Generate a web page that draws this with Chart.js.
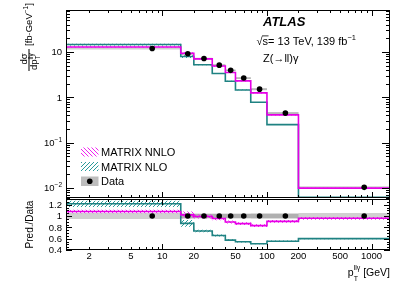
<!DOCTYPE html>
<html><head><meta charset="utf-8">
<script src="https://cdn.jsdelivr.net/npm/chart.js@4.4.0/dist/chart.umd.min.js"></script>
<style>
html,body{margin:0;padding:0;background:#fff;}
#wrap{position:relative;width:411px;height:284px;overflow:hidden;}
canvas{position:absolute;left:0;top:0;}
</style></head><body>
<div id="wrap"><canvas id="top" width="411" height="284"></canvas><canvas id="ratio" width="411" height="284"></canvas></div>
<script>
// ---------- data ----------
const binEdges   = [1, 15, 20, 30, 40, 50, 70, 100, 200, 1500];
const binCenters = [8, 17.5, 25, 35, 45, 60, 85, 150, 850];
const dataXsec   = [12.0, 9.2, 7.2, 5.15, 3.95, 2.67, 1.52, 0.45, 0.0103];
const nnloXsec   = [13.0, 9.4, 7.1, 4.92, 3.54, 2.31, 1.26, 0.41, 0.0099];
const nloXsec    = [14.7, 8.0, 5.25, 3.38, 2.27, 1.46, 0.78, 0.25, 0.0062];
const dataTotUnc  = [0.055, 0.05, 0.045, 0.045, 0.045, 0.045, 0.05, 0.05, 0.055];
const dataStatUnc = [0.0, 0.035, 0.035, 0.035, 0.035, 0.035, 0.035, 0.035, 0.0];
const nnloRelUnc = [0.03, 0.06, 0.035, 0.03, 0.03, 0.03, 0.03, 0.025, 0.025];
const nloRelUnc  = [0.045, 0.07, 0.03, 0.025, 0.025, 0.02, 0.02, 0.02, 0.02];
const ratioNNLO  = [1.08, 1.02, 0.99, 0.955, 0.895, 0.865, 0.83, 0.905, 0.96];
const ratioNLO   = [1.215, 0.87, 0.735, 0.655, 0.575, 0.545, 0.51, 0.555, 0.60];
const ratioData  = [1, 1, 1, 1, 1, 1, 1, 1, 1];
const yTicksTop = [0.01, 0.1, 1, 10];
const yTickLabelsTop = ['10^{-2}', '10^{-1}', '1', '10'];
const yTicksRatio = [0.4, 0.6, 0.8, 1, 1.2];
const yTickLabelsRatio = ['0.4', '0.6', '0.8', '1', '1.2'];
const xTicks = [2, 5, 10, 20, 50, 100, 200, 500, 1000];
const xTickLabels = ['2', '5', '10', '20', '50', '100', '200', '500', '1000'];
const xRange = [1.2, 1500];
const yRangeTop = [0.006, 85];
const yRangeRatio = [0.4, 1.3];

// ---------- style ----------
const FONT = '"Liberation Sans", Arial, Helvetica, sans-serif';
const MAG = '#e600e6';
const TEAL = '#1f8282';
const TEAL_HATCH = '#2a9a9a';
const MAG_HATCH = '#f020f0';
Chart.defaults.font.family = FONT;
Chart.defaults.color = '#000';

function hatch(ctx, color, dir) {
  const c = document.createElement('canvas'); c.width = 4; c.height = 4;
  const g = c.getContext('2d'); g.fillStyle = color;
  for (let i = 0; i < 4; i++) g.fillRect(i, dir > 0 ? 3 - i : i, 1, 1);
  return ctx.createPattern(c, 'repeat');
}
const stepPts = vals => binEdges.map((e, i) => ({x: e, y: vals[Math.min(i, vals.length - 1)]}));
function band(vals, unc, color, order) {
  return [
    {data: stepPts(vals.map((v,i)=>v*(1-unc[i]))), borderColor:'rgba(0,0,0,0)', borderWidth:0, pointRadius:0, stepped:true, fill:false, order},
    {data: stepPts(vals.map((v,i)=>v*(1+unc[i]))), borderColor:'rgba(0,0,0,0)', borderWidth:0, pointRadius:0, stepped:true, fill:'-1', backgroundColor:color, order}
  ];
}
function histLine(vals, color, order) {
  return {data: stepPts(vals), borderColor: color, borderWidth: 1.6, pointRadius: 0, stepped: true, fill: false, order};
}
function points(vals) {
  return {data: binCenters.map((x,i)=>({x, y: vals[i]})), showLine:false, pointRadius:2.8, pointBackgroundColor:'#000', pointBorderWidth:0, order:0};
}
function logTicks(min, max) {
  const out = [];
  for (let e = Math.floor(Math.log10(min)); e <= Math.ceil(Math.log10(max)); e++)
    for (let m = 1; m <= 9; m++) { const v = m * Math.pow(10, e); if (v >= min*0.9999 && v <= max*1.0001) out.push([v, m === 1]); }
  return out;
}
function xTickMarks(ctx, a, xs) {
  logTicks(xs.min, xs.max).forEach(([v, major]) => {
    const p = Math.round(xs.getPixelForValue(v)) + 0.5, L = major ? 6 : 3;
    ctx.moveTo(p, a.bottom); ctx.lineTo(p, a.bottom - L);
    ctx.moveTo(p, a.top); ctx.lineTo(p, a.top + L);
  });
}
function supText(ctx, parts, x, y) {
  let cx = x;
  parts.forEach(([t, s, dy]) => { ctx.font = s + 'px ' + FONT; ctx.fillText(t, cx, y + dy); cx += ctx.measureText(t).width; });
  return cx;
}
function partsWidth(ctx, parts) {
  let w = 0; parts.forEach(([t, s]) => { ctx.font = s + 'px ' + FONT; w += ctx.measureText(t).width; }); return w;
}

// ---------- top panel ----------
const topEl = document.getElementById('top');
const tctx = topEl.getContext('2d');
const magHatch = hatch(tctx, MAG_HATCH, -1), tealHatch = hatch(tctx, TEAL_HATCH, 1);

const topPlugin = {
  id: 'topDeco',
  afterDraw(chart) {
    const ctx = chart.ctx, a = chart.chartArea, xs = chart.scales.x, ys = chart.scales.y;
    ctx.save();
    ctx.strokeStyle = '#000'; ctx.lineWidth = 1; ctx.beginPath();
    xTickMarks(ctx, a, xs);
    logTicks(ys.min, ys.max).forEach(([v, major]) => {
      const p = Math.round(ys.getPixelForValue(v)) + 0.5, L = major ? 8 : 4;
      ctx.moveTo(a.left, p); ctx.lineTo(a.left + L, p);
      ctx.moveTo(a.right, p); ctx.lineTo(a.right - L, p);
    });
    ctx.stroke();
    ctx.strokeRect(a.left + 0.5, a.top + 0.5, a.width - 1, a.height - 1);
    // y tick labels
    ctx.fillStyle = '#000'; ctx.textAlign = 'left'; ctx.textBaseline = 'alphabetic';
    yTicksTop.forEach((v, i) => {
      const p = ys.getPixelForValue(v);
      const m = yTickLabelsTop[i].match(/^(.*?)\^\{(.*)\}$/);
      const parts = m ? [[m[1], 9.5, 0], [m[2].replace('-', '\u2212'), 6.5, -4.5]] : [[yTickLabelsTop[i], 9.5, 0]];
      const w = partsWidth(ctx, parts);
      supText(ctx, parts, 62 - w, p + 3.4);
    });
    // y title (rotated)
    ctx.save();
    ctx.translate(29, 71); ctx.rotate(-Math.PI / 2);
    ctx.fillRect(0, -0.5, 22, 1);
    ctx.font = '9.5px ' + FONT; ctx.textAlign = 'center';
    ctx.fillText('d\u03c3', 12, -1.8);
    ctx.textAlign = 'left';
    ctx.font = '9.5px ' + FONT; ctx.fillText('dp', 1, 8);
    const wdp = ctx.measureText('dp').width;
    ctx.font = '6.5px ' + FONT; ctx.fillText('T', 1 + wdp, 11); ctx.fillText('ll\u03b3', 1 + wdp, 4);
    supText(ctx, [['[fb\u00b7GeV', 9.5, 0], ['\u22121', 6.5, -4], [']', 9.5, 0]], 25, 2.5);
    ctx.restore();
    // labels
    ctx.fillStyle = '#000'; ctx.textAlign = 'left';
    ctx.font = 'bold italic 13px ' + FONT; ctx.fillText('ATLAS', 263, 26);
    ctx.font = '11px ' + FONT;
    ctx.fillText('\u221a', 256.5, 44.5);
    const wr = ctx.measureText('\u221a').width;
    ctx.fillText('s', 256.5 + wr, 44.5);
    const ws = ctx.measureText('s').width;
    ctx.fillRect(256.5 + wr - 0.5, 35.5, ws + 1, 0.8);
    supText(ctx, [['= 13 TeV, 139 fb', 11, 0], ['\u22121', 7.5, -4.5]], 256.5 + wr + ws, 44.5);
    ctx.font = '11px ' + FONT; ctx.fillText('Z(\u2192ll)\u03b3', 263, 61.5);
    // legend
    const lx = 81, lw = 17.5;
    ctx.fillStyle = magHatch; ctx.fillRect(lx, 147.5, lw, 9);
    ctx.fillStyle = tealHatch; ctx.fillRect(lx, 162, lw, 9);
    ctx.fillStyle = '#bdbdbd'; ctx.fillRect(lx, 176.5, lw, 9.5);
    ctx.fillStyle = '#000'; ctx.beginPath(); ctx.arc(lx + lw/2, 181.2, 2.8, 0, 2*Math.PI); ctx.fill();
    ctx.font = '11px ' + FONT;
    ctx.fillText('MATRIX NNLO', 101, 156);
    ctx.fillText('MATRIX NLO', 101, 170.5);
    ctx.fillText('Data', 101, 185);
    ctx.restore();
  }
};

new Chart(topEl, {
  type: 'line',
  data: { datasets: [
    ...band(dataXsec, dataTotUnc, '#d0d0d0', 12),
    ...band(dataXsec, dataStatUnc, '#b0b0b0', 11),
    ...band(nloXsec, nloRelUnc, tealHatch, 8),
    ...band(nnloXsec, nnloRelUnc, magHatch, 7),
    histLine(nloXsec, TEAL, 4),
    histLine(nnloXsec, MAG, 3),
    points(dataXsec)
  ]},
  options: {
    responsive: false, animation: false, devicePixelRatio: 1,
    layout: { padding: { left: 66, right: 21, top: 10, bottom: 86 } },
    plugins: { legend: { display: false }, tooltip: { enabled: false } },
    scales: {
      x: { type: 'logarithmic', min: xRange[0], max: xRange[1], display: false },
      y: { type: 'logarithmic', min: yRangeTop[0], max: yRangeTop[1], display: false }
    }
  },
  plugins: [topPlugin]
});

// ---------- ratio panel ----------
const ratioEl = document.getElementById('ratio');
const rctx = ratioEl.getContext('2d');
const magHatchR = hatch(rctx, MAG_HATCH, -1), tealHatchR = hatch(rctx, TEAL_HATCH, 1);

const ratioPlugin = {
  id: 'ratioDeco',
  afterDraw(chart) {
    const ctx = chart.ctx, a = chart.chartArea, xs = chart.scales.x, ys = chart.scales.y;
    ctx.save();
    ctx.strokeStyle = '#000'; ctx.lineWidth = 1; ctx.beginPath();
    xTickMarks(ctx, a, xs);
    for (let k = 0; k <= Math.round((ys.max - ys.min) / 0.05); k++) {
      const v = ys.min + k * 0.05;
      const major = Math.abs(Math.round(v / 0.2) * 0.2 - v) < 1e-6;
      const p = Math.round(ys.getPixelForValue(v)) + 0.5, L = major ? 6 : 3;
      ctx.moveTo(a.left, p); ctx.lineTo(a.left + L, p);
      ctx.moveTo(a.right, p); ctx.lineTo(a.right - L, p);
    }
    ctx.stroke();
    ctx.strokeRect(a.left + 0.5, a.top + 0.5, a.width - 1, a.height - 1);
    ctx.fillStyle = '#000';
    // y tick labels
    ctx.font = '9.5px ' + FONT; ctx.textAlign = 'right'; ctx.textBaseline = 'alphabetic';
    yTicksRatio.forEach((v, i) => ctx.fillText(yTickLabelsRatio[i], 62, ys.getPixelForValue(v) + 3.4));
    ctx.textAlign = 'left';
    // y title
    ctx.save();
    ctx.translate(33, 224.5); ctx.rotate(-Math.PI / 2);
    ctx.font = '10px ' + FONT; ctx.textAlign = 'center'; ctx.fillText('Pred./Data', 0, 0);
    ctx.restore();
    // x title
    ctx.textAlign = 'left';
    ctx.font = '10.5px ' + FONT;
    const wG = ctx.measureText(' [GeV]').width;
    ctx.font = '7px ' + FONT;
    const wS = ctx.measureText('ll\u03b3').width;
    ctx.font = '10.5px ' + FONT;
    const wp = ctx.measureText('p').width;
    const x0 = a.right - wG - wS - wp;
    ctx.fillText('p', x0, 275.5);
    ctx.font = '7px ' + FONT;
    ctx.fillText('ll\u03b3', x0 + wp, 269.5);
    ctx.fillText('T', x0 + wp, 280.5);
    ctx.font = '10.5px ' + FONT;
    ctx.fillText(' [GeV]', x0 + wp + wS, 275.5);
    ctx.restore();
  }
};

new Chart(ratioEl, {
  type: 'line',
  data: { datasets: [
    ...band(ratioData, dataTotUnc, '#d0d0d0', 12),
    ...band(ratioData, dataStatUnc, '#b0b0b0', 11),
    ...band(ratioNLO, nloRelUnc, tealHatchR, 8),
    ...band(ratioNNLO, nnloRelUnc, magHatchR, 7),
    histLine(ratioNLO, TEAL, 4),
    histLine(ratioNNLO, MAG, 3),
    points(ratioData)
  ]},
  options: {
    responsive: false, animation: false, devicePixelRatio: 1,
    layout: { padding: { left: 66, right: 21, top: 199, bottom: 0 } },
    plugins: { legend: { display: false }, tooltip: { enabled: false } },
    scales: {
      x: {
        type: 'logarithmic', min: xRange[0], max: xRange[1],
        grid: { display: false, drawTicks: false }, border: { display: false },
        afterBuildTicks: s => { s.ticks = xTicks.map(v => ({ value: v })); },
        afterFit: s => { s.height = 34; },
        ticks: { autoSkip: false, maxRotation: 0, padding: 1, color: '#000', font: { size: 9.5 },
                 callback: (v, i) => xTickLabels[i] }
      },
      y: { type: 'linear', min: yRangeRatio[0], max: yRangeRatio[1], display: false }
    }
  },
  plugins: [ratioPlugin]
});
</script>
</body></html>
